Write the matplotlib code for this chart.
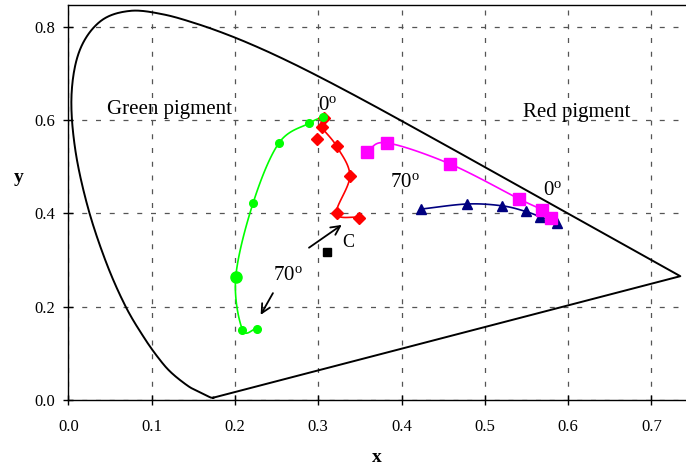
import numpy as np
import matplotlib
matplotlib.use("Agg")
import matplotlib.pyplot as plt

plt.rcParams['font.family'] = ['Liberation Serif', 'DejaVu Serif']
plt.rcParams['mathtext.fontset'] = 'custom'
plt.rcParams['mathtext.rm'] = 'Liberation Serif'
plt.rcParams['mathtext.it'] = 'Liberation Serif:italic'

# CIE 1931 spectral locus (380-700 nm)
locus_x = [0.1741, 0.1733, 0.1726, 0.1714, 0.1689, 0.1644, 0.1566, 0.1440, 0.1241,
           0.1096, 0.0913, 0.0687, 0.0454, 0.0235, 0.0082, 0.0039, 0.0139, 0.0389,
           0.0743, 0.1142, 0.1547, 0.1929, 0.2296, 0.2658, 0.3016, 0.3373, 0.3731,
           0.4087, 0.4441, 0.4788, 0.5125, 0.5448, 0.5752, 0.6029, 0.6270, 0.6658,
           0.6915, 0.7079, 0.7190, 0.7260, 0.7300, 0.7334, 0.7347]
locus_y = [0.0050, 0.0048, 0.0048, 0.0051, 0.0069, 0.0109, 0.0177, 0.0297, 0.0578,
           0.0868, 0.1327, 0.2007, 0.2950, 0.4127, 0.5384, 0.6548, 0.7502, 0.8120,
           0.8338, 0.8262, 0.8059, 0.7816, 0.7543, 0.7243, 0.6923, 0.6589, 0.6245,
           0.5896, 0.5547, 0.5202, 0.4866, 0.4544, 0.4242, 0.3965, 0.3725, 0.3340,
           0.3083, 0.2920, 0.2809, 0.2740, 0.2700, 0.2666, 0.2653]

green_x = [0.306, 0.289, 0.253, 0.222, 0.201, 0.209, 0.226]
green_y = [0.607, 0.593, 0.551, 0.423, 0.263, 0.151, 0.153]
green_big = [4]

red_x = [0.307, 0.304, 0.322, 0.338, 0.322, 0.349]
red_y = [0.604, 0.586, 0.544, 0.480, 0.400, 0.391]
red_extra_x = [0.299]
red_extra_y = [0.559]

mag_x = [0.358, 0.382, 0.458, 0.541, 0.569, 0.580]
mag_y = [0.531, 0.551, 0.506, 0.431, 0.407, 0.389]

navy_x = [0.423, 0.479, 0.521, 0.549, 0.566, 0.587]
navy_y = [0.409, 0.420, 0.416, 0.404, 0.393, 0.379]

illum_x = [0.3101]
illum_y = [0.3162]

xticks = [0.0, 0.1, 0.2, 0.3, 0.4, 0.5, 0.6, 0.7]
yticks = [0.0, 0.2, 0.4, 0.6, 0.8]


def smooth(xs, ys, n=20):
    p = np.column_stack([xs, ys]).astype(float)
    if len(p) < 3:
        return p[:, 0], p[:, 1]
    ext = np.vstack([2 * p[0] - p[1], p, 2 * p[-1] - p[-2]])
    out = []
    t = np.linspace(0, 1, n, endpoint=False)[:, None]
    for i in range(1, len(ext) - 2):
        p0, p1, p2, p3 = ext[i - 1], ext[i], ext[i + 1], ext[i + 2]
        seg = 0.5 * ((2 * p1) + (-p0 + p2) * t + (2 * p0 - 5 * p1 + 4 * p2 - p3) * t ** 2
                     + (-p0 + 3 * p1 - 3 * p2 + p3) * t ** 3)
        out.append(seg)
    out.append(p[-1][None, :])
    out = np.vstack(out)
    return out[:, 0], out[:, 1]


fig = plt.figure(figsize=(6.86, 4.69), dpi=100)
ax = fig.add_axes([68.3 / 686, 69 / 469, (686 - 68.3) / 686, 395 / 469])

# locus (smooth spectral part + straight purple line)
sx, sy = smooth(locus_x, locus_y)
lx = list(sx) + [locus_x[0]]
ly = list(sy) + [locus_y[0]]
ax.plot(lx, ly, color='black', lw=1.4, zorder=3, solid_joinstyle='round')

# green
sx, sy = smooth(green_x, green_y)
ax.plot(sx, sy, color='#00FF00', lw=1.2, zorder=4)
small = [i for i in range(len(green_x)) if i not in green_big]
ax.plot([green_x[i] for i in small], [green_y[i] for i in small], 'o', color='#00FF00',
        ms=5.5, zorder=6)
ax.plot([green_x[i] for i in green_big], [green_y[i] for i in green_big], 'o',
        color='#00FF00', ms=8, zorder=6)

# red
sx, sy = smooth(red_x, red_y)
ax.plot(sx, sy, color='#FF0000', lw=1.2, zorder=4)
ax.plot(red_x, red_y, 'D', color='#FF0000', ms=6.3, zorder=5)
ax.plot(red_extra_x, red_extra_y, 'D', color='#FF0000', ms=6.3, zorder=5)

# magenta
sx, sy = smooth(mag_x, mag_y)
ax.plot(sx, sy, color='#FF00FF', lw=1.2, zorder=4)
ax.plot(mag_x, mag_y, 's', color='#FF00FF', ms=8, zorder=6)

# navy
sx, sy = smooth(navy_x, navy_y)
ax.plot(sx, sy, color='#000080', lw=1.2, zorder=4)
ax.plot(navy_x, navy_y, '^', color='#000080', ms=7.5, zorder=5)

# illuminant C
ax.plot(illum_x, illum_y, 's', color='black', ms=6, zorder=6)

# texts
ax.text(0.0465, 0.613, 'Green pigment', fontsize=15, ha='left', va='baseline', zorder=7)
ax.text(0.5458, 0.606, 'Red pigment', fontsize=15, ha='left', va='baseline', zorder=7)
ax.text(0.2998, 0.621, r'0$^{\mathrm{o}}$', fontsize=15, ha='left', va='baseline', zorder=7)
ax.text(0.5699, 0.439, r'0$^{\mathrm{o}}$', fontsize=15, ha='left', va='baseline', zorder=7)
ax.text(0.2457, 0.257, r'70$^{\mathrm{o}}$', fontsize=15, ha='left', va='baseline', zorder=7)
ax.text(0.386, 0.456, r'70$^{\mathrm{o}}$', fontsize=15, ha='left', va='baseline', zorder=7)
ax.text(0.3286, 0.328, 'C', fontsize=13, ha='left', va='baseline', zorder=7)

ax.annotate('', xy=(0.331, 0.3786), xytext=(0.2862, 0.3229),
            arrowprops=dict(arrowstyle='->', color='black', lw=1.3, mutation_scale=16))
ax.annotate('', xy=(0.2293, 0.1772), xytext=(0.2473, 0.2342),
            arrowprops=dict(arrowstyle='->', color='black', lw=1.3, mutation_scale=16))

ax.set_xlim(0, (686 - 68.3) / 833)
ax.set_ylim(0, 395 / 466.7)
ax.set_xticks(xticks)
ax.set_yticks(yticks)
ax.set_xticklabels([f'{v:.1f}' for v in xticks])
ax.set_yticklabels([f'{v:.1f}' for v in yticks])
ax.grid(True, which='major', linestyle=(0, (4, 7)), color='#555555', lw=0.9)
ax.tick_params(axis='both', which='major', direction='inout', length=7, width=1,
               labelsize=12, pad=6)
ax.tick_params(axis='x', pad=10)
ax.set_axisbelow(True)
ax.spines['right'].set_visible(False)
for s in ['left', 'bottom', 'top']:
    ax.spines[s].set_linewidth(1.0)
ax.set_xlabel('x', fontsize=14, fontweight='bold', labelpad=10)
fig.text(19 / 686, 1 - 177 / 469, 'y', fontsize=14, fontweight='bold',
         ha='center', va='center')

fig.savefig('out.png', dpi=100)
